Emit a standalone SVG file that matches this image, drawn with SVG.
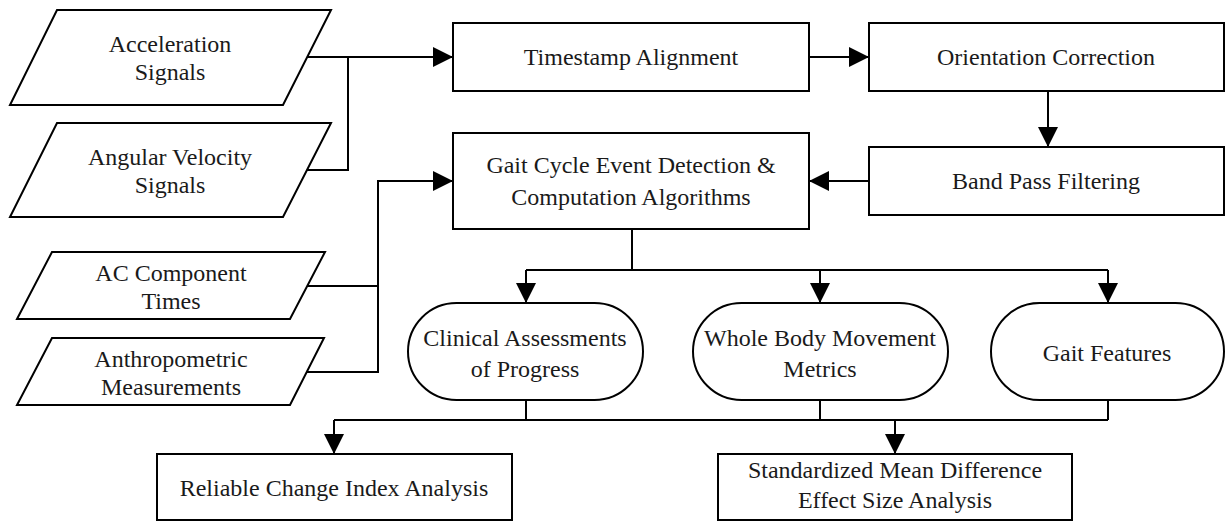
<svg xmlns="http://www.w3.org/2000/svg" width="1230" height="522" viewBox="0 0 1230 522">
<style>
.s{fill:#fff;stroke:#000;stroke-width:2}
.t{font-family:"Liberation Serif","Times New Roman",serif;font-size:24px;fill:#1a1a1a;text-anchor:middle}
.c{fill:none;stroke:#000;stroke-width:2}
</style>
<defs>
<marker id="ah" markerUnits="userSpaceOnUse" markerWidth="20" markerHeight="20" viewBox="0 0 20 20" refX="19" refY="10" orient="auto">
<path d="M0,0 L20,10 L0,20 Z" fill="#000"/>
</marker>
</defs>
<rect width="1230" height="522" fill="#fff"/>
<g id="connectors">
<path class="c" d="M307,57 H452" marker-end="url(#ah)"/>
<path class="c" d="M307,170 H348 V57"/>
<path class="c" d="M809,57 H868" marker-end="url(#ah)"/>
<path class="c" d="M1048,91 V146" marker-end="url(#ah)"/>
<path class="c" d="M869,181 H810" marker-end="url(#ah)"/>
<path class="c" d="M307,286 H378"/>
<path class="c" d="M307,372 H378 V181 H452" marker-end="url(#ah)"/>
<path class="c" d="M632,229 V270"/>
<path class="c" d="M526,270 H1108"/>
<path class="c" d="M526,270 V302" marker-end="url(#ah)"/>
<path class="c" d="M820,270 V302" marker-end="url(#ah)"/>
<path class="c" d="M1108,270 V302" marker-end="url(#ah)"/>
<path class="c" d="M526,400 V420 M820,400 V420 M1108,400 V420"/>
<path class="c" d="M334,420 H1108"/>
<path class="c" d="M334,420 V453" marker-end="url(#ah)"/>
<path class="c" d="M895,420 V453" marker-end="url(#ah)"/>
</g>
<g id="acc">
<polygon class="s" points="57,10 331,10 283,105 10,105"/>
<text class="t" x="170" y="52">Acceleration</text>
<text class="t" x="170" y="80">Signals</text>
</g>
<g id="ang">
<polygon class="s" points="57,123 331,123 283,217 10,217"/>
<text class="t" x="170" y="165">Angular Velocity</text>
<text class="t" x="170" y="193">Signals</text>
</g>
<g id="acc-times">
<polygon class="s" points="52,252 325,252 290,319 17,319"/>
<text class="t" x="171" y="281">AC Component</text>
<text class="t" x="171" y="309">Times</text>
</g>
<g id="anthro">
<polygon class="s" points="52,338 324,338 290,405 17,405"/>
<text class="t" x="171" y="367">Anthropometric</text>
<text class="t" x="171" y="395">Measurements</text>
</g>
<g id="timestamp">
<rect class="s" x="453" y="23" width="356" height="68"/>
<text class="t" x="631" y="65">Timestamp Alignment</text>
</g>
<g id="orientation">
<rect class="s" x="869" y="23" width="355" height="68"/>
<text class="t" x="1046" y="65">Orientation Correction</text>
</g>
<g id="bandpass">
<rect class="s" x="869" y="147" width="355" height="68"/>
<text class="t" x="1046" y="189">Band Pass Filtering</text>
</g>
<g id="gait-cycle">
<rect class="s" x="453" y="133" width="356" height="96"/>
<text class="t" x="631" y="173">Gait Cycle Event Detection &amp;</text>
<text class="t" x="631" y="205">Computation Algorithms</text>
</g>
<g id="clinical">
<rect class="s" x="408" y="303" width="235" height="97" rx="48.5"/>
<text class="t" x="525" y="346">Clinical Assessments</text>
<text class="t" x="525" y="377">of Progress</text>
</g>
<g id="wholebody">
<rect class="s" x="693" y="303" width="255" height="97" rx="48.5"/>
<text class="t" x="820" y="346">Whole Body Movement</text>
<text class="t" x="820" y="377">Metrics</text>
</g>
<g id="gaitfeatures">
<rect class="s" x="991" y="303" width="233" height="97" rx="48.5"/>
<text class="t" x="1107" y="361">Gait Features</text>
</g>
<g id="rci">
<rect class="s" x="157" y="454" width="355" height="66"/>
<text class="t" x="334" y="496">Reliable Change Index Analysis</text>
</g>
<g id="smd">
<rect class="s" x="718" y="454" width="354" height="66"/>
<text class="t" x="895" y="478">Standardized Mean Difference</text>
<text class="t" x="895" y="508">Effect Size Analysis</text>
</g>
</svg>
